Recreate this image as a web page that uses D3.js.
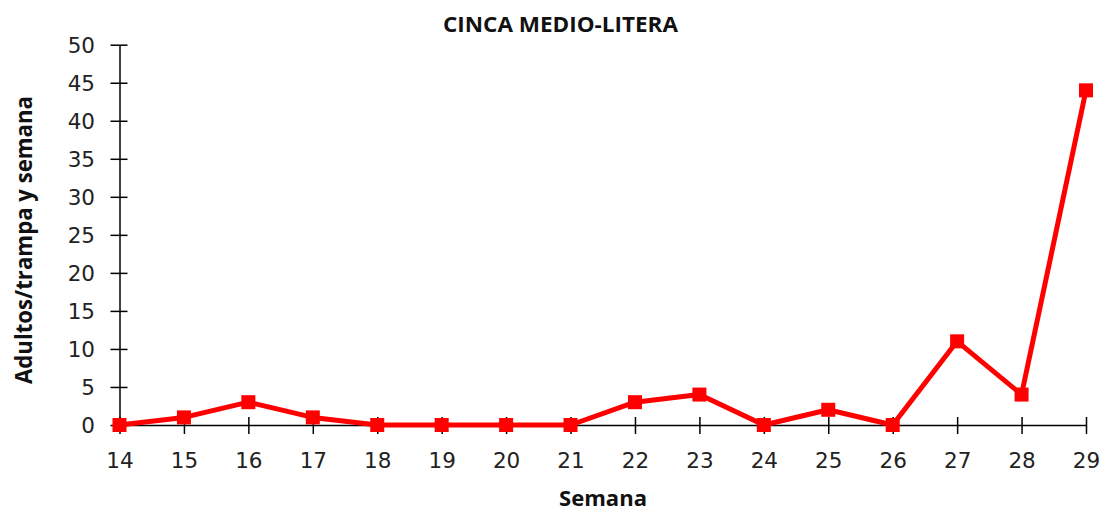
<!DOCTYPE html>
<html>
<head>
<meta charset="utf-8">
<script src="https://cdn.jsdelivr.net/npm/d3@7/dist/d3.min.js"></script>
<style>
  html, body { margin: 0; padding: 0; background: #fff; }
  svg { display: block; }
</style>
</head>
<body>
<script>
const title = "CINCA MEDIO-LITERA";
const xTitle = "Semana";
const yTitle = "Adultos/trampa y semana";
const weeks = [14, 15, 16, 17, 18, 19, 20, 21, 22, 23, 24, 25, 26, 27, 28, 29];
const values = [0, 1, 3, 1, 0, 0, 0, 0, 3, 4, 0, 2, 0, 11, 4, 44];
const yTicks = [0, 5, 10, 15, 20, 25, 30, 35, 40, 45, 50];

const W = 1104, H = 511;
const svg = d3.select("body").append("svg").attr("width", W).attr("height", H);

const x = d3.scaleLinear().domain([14, 29]).range([119.5, 1086]);
const y = d3.scaleLinear().domain([0, 50]).range([425, 44.7]);

const tickFont = "'DejaVu Sans', Verdana, sans-serif";
const boldFont = "'Open Sans', 'DejaVu Sans', sans-serif";

// Y axis
const yAxis = svg.append("g").attr("transform", `translate(${x(14)},0)`)
  .call(d3.axisLeft(y).tickValues(yTicks).tickSize(9).tickSizeOuter(0));
yAxis.selectAll(".tick line").attr("x1", -9).attr("x2", 8)
  .attr("stroke", "#000").attr("stroke-width", 1.5);
yAxis.selectAll(".tick text").attr("x", -24.5).attr("dy", "0.36em");
yAxis.select(".domain").attr("stroke", "#000").attr("stroke-width", 1.5);
yAxis.selectAll("text").attr("font-family", tickFont).attr("font-size", 21.5).attr("fill", "#222");

// X axis
const xAxis = svg.append("g").attr("transform", `translate(0,${y(0)})`)
  .call(d3.axisBottom(x).tickValues(weeks).tickFormat(d3.format("d")).tickSize(9).tickSizeOuter(0));
xAxis.selectAll(".tick line").attr("y1", -8).attr("y2", 9).attr("stroke", "#000").attr("stroke-width", 1.5);
xAxis.selectAll(".tick text").attr("y", 43).attr("dy", null);
xAxis.select(".domain").attr("stroke", "#000").attr("stroke-width", 1.5);
xAxis.selectAll("text").attr("font-family", tickFont).attr("font-size", 21.5).attr("fill", "#222");

// Line
const line = d3.line().x((d, i) => x(weeks[i])).y(d => y(d));
svg.append("path").datum(values)
  .attr("d", line)
  .attr("fill", "none")
  .attr("stroke", "#ff0000")
  .attr("stroke-width", 5)
  .attr("stroke-linejoin", "round");

// Markers
const ms = 14;
svg.selectAll("rect.pt").data(values).enter().append("rect")
  .attr("class", "pt")
  .attr("x", (d, i) => x(weeks[i]) - ms / 2)
  .attr("y", d => y(d) - ms / 2)
  .attr("width", ms).attr("height", ms)
  .attr("fill", "#ff0000");

// Titles
svg.append("text").attr("x", 560.5).attr("y", 32)
  .attr("text-anchor", "middle").attr("font-family", boldFont).attr("font-weight", "bold")
  .attr("font-size", 21).attr("fill", "#111")
  .attr("textLength", 235).attr("lengthAdjust", "spacingAndGlyphs").text(title);

svg.append("text").attr("x", 603).attr("y", 506)
  .attr("text-anchor", "middle").attr("font-family", boldFont).attr("font-weight", "bold")
  .attr("font-size", 21).attr("fill", "#111")
  .attr("textLength", 88).attr("lengthAdjust", "spacingAndGlyphs").text(xTitle);

svg.append("text").attr("transform", `translate(32,240) rotate(-90)`)
  .attr("text-anchor", "middle").attr("font-family", boldFont).attr("font-weight", "bold")
  .attr("font-size", 23).attr("fill", "#111")
  .attr("textLength", 288).attr("lengthAdjust", "spacingAndGlyphs").text(yTitle);
</script>
</body>
</html>
